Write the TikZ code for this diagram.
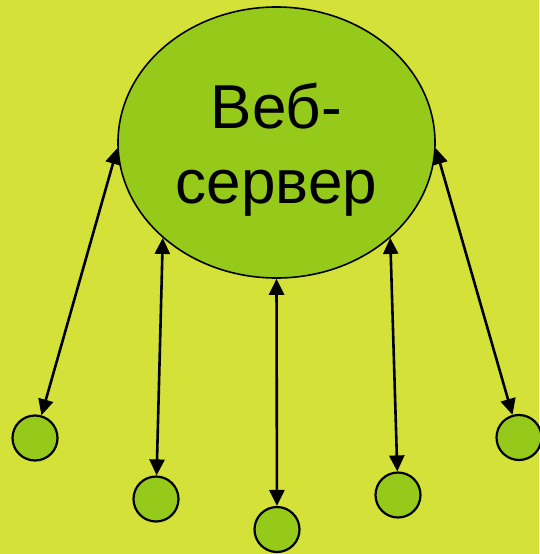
\documentclass[tikz,border=0pt]{standalone}
\usepackage{fontspec}
\setmainfont{Liberation Sans}
\usetikzlibrary{arrows.meta,shapes.geometric}
\definecolor{bgc}{RGB}{212,225,56}
\definecolor{fillc}{RGB}{150,202,26}
\tikzset{
  server/.style={ellipse, draw=black, line width=1.6pt, fill=fillc, minimum width=317pt, minimum height=271pt, inner sep=0pt},
  client/.style={circle, draw=black, line width=2.2pt, fill=fillc, minimum size=45pt, inner sep=0pt},
  tipA/.tip={Triangle[length=16pt,width=15pt]},
  link/.style={line width=2.6pt, tipA-tipA},
  lbl/.style={anchor=base, inner sep=0pt, font=\fontsize{62}{75}\selectfont}
}
\begin{document}
\begin{tikzpicture}[x=1pt,y=-1pt]
\fill[bgc] (0,0) rectangle (539,554);
\useasboundingbox (0,0) rectangle (539,554);
\node[server] (s) at (276.5,142.5) {};
\node[lbl] (t1) at (276.5,128) {Веб-};
\node[lbl] (t2) at (276.5,203) {сервер};
\node[client] (c1) at (35,438) {};
\node[client] (c2) at (156,499) {};
\node[client] (c3) at (277,529.5) {};
\node[client] (c4) at (398,495) {};
\node[client] (c5) at (519,437.5) {};
\draw[link] (s.182) -- (c1);
\draw[link] (s.220) -- (c2);
\draw[link] (s.270) -- (c3);
\draw[link] (s.320) -- (c4);
\draw[link] (s.358) -- (c5);
\end{tikzpicture}
\end{document}
